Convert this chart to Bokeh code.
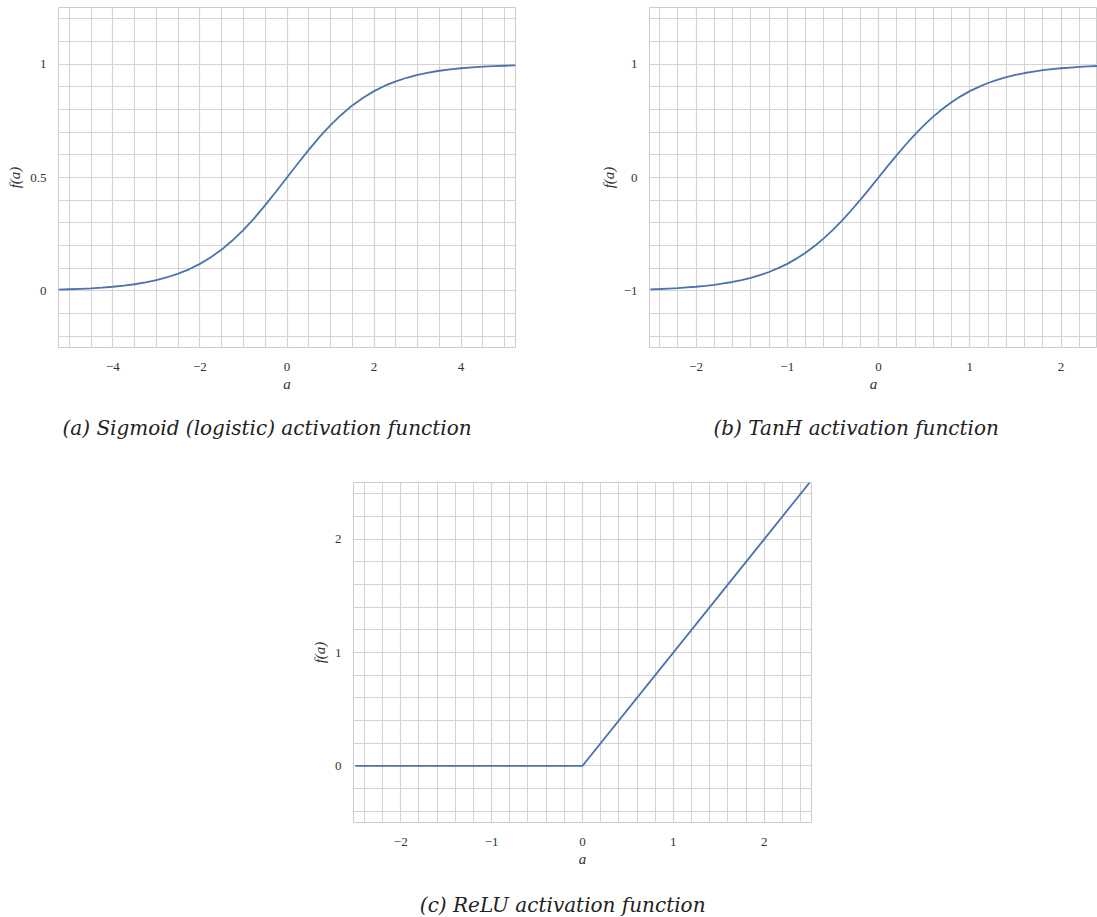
from bokeh.plotting import figure
from bokeh.layouts import column, row
from bokeh.models import FixedTicker, Title, CustomJSTickFormatter, Range1d, Label
from bokeh.embed import file_html
from bokeh.resources import INLINE
import numpy as np

# ---- data ----
sig_x = [-5.25, -5.0, -4.75, -4.5, -4.25, -4.0, -3.75, -3.5, -3.25, -3.0, -2.75, -2.5,
         -2.25, -2.0, -1.75, -1.5, -1.25, -1.0, -0.75, -0.5, -0.25, 0.0, 0.25, 0.5,
         0.75, 1.0, 1.25, 1.5, 1.75, 2.0, 2.25, 2.5, 2.75, 3.0, 3.25, 3.5, 3.75, 4.0,
         4.25, 4.5, 4.75, 5.0, 5.25]
sig_y = [0.005, 0.007, 0.009, 0.011, 0.014, 0.018, 0.023, 0.029, 0.037, 0.047, 0.060, 0.076,
         0.095, 0.119, 0.148, 0.182, 0.223, 0.269, 0.321, 0.378, 0.438, 0.500, 0.562, 0.622,
         0.679, 0.731, 0.777, 0.818, 0.852, 0.881, 0.905, 0.924, 0.940, 0.953, 0.963, 0.971,
         0.977, 0.982, 0.986, 0.989, 0.991, 0.993, 0.995]

tanh_x = [-2.5, -2.4, -2.3, -2.2, -2.1, -2.0, -1.9, -1.8, -1.7, -1.6, -1.5, -1.4, -1.3,
          -1.2, -1.1, -1.0, -0.9, -0.8, -0.7, -0.6, -0.5, -0.4, -0.3, -0.2, -0.1, 0.0,
          0.1, 0.2, 0.3, 0.4, 0.5, 0.6, 0.7, 0.8, 0.9, 1.0, 1.1, 1.2, 1.3, 1.4, 1.5,
          1.6, 1.7, 1.8, 1.9, 2.0, 2.1, 2.2, 2.3, 2.4, 2.5]
tanh_y = [-0.987, -0.984, -0.980, -0.976, -0.970, -0.964, -0.956, -0.947, -0.935, -0.922,
          -0.905, -0.885, -0.862, -0.834, -0.800, -0.762, -0.716, -0.664, -0.604, -0.537,
          -0.462, -0.380, -0.291, -0.197, -0.100, 0.000, 0.100, 0.197, 0.291, 0.380,
          0.462, 0.537, 0.604, 0.664, 0.716, 0.762, 0.800, 0.834, 0.862, 0.885, 0.905,
          0.922, 0.935, 0.947, 0.956, 0.964, 0.970, 0.976, 0.980, 0.984, 0.987]

relu_x = [-2.5, 0.0, 2.5]
relu_y = [0.0, 0.0, 2.5]

sig_xticks = [-4, -2, 0, 2, 4]
sig_yticks = [0, 0.5, 1]
tanh_xticks = [-2, -1, 0, 1, 2]
tanh_yticks = [-1, 0, 1]
relu_xticks = [-2, -1, 0, 1, 2]
relu_yticks = [0, 1, 2]

captions = ["(a) Sigmoid (logistic) activation function",
            "(b) TanH activation function",
            "(c) ReLU activation function"]

SERIF = "Liberation Serif"
CAP_FONT = "DejaVu Serif"
LINE = "#4c72b0"
GRID = "#d4d4d4"

fmt_code = "return tick < 0 ? '\\u2212' + String(Math.abs(tick)) : String(tick);"


def make_fig(width, height, mbl, mbr, mbt, mbb, xr, yr, xt, xmin, yt, ymin):
    p = figure(width=width, height=height, x_range=Range1d(*xr), y_range=Range1d(*yr),
               output_backend="svg", toolbar_location=None,
               min_border_left=mbl, min_border_right=mbr, min_border_top=mbt,
               min_border_bottom=mbb, background_fill_color="white",
               border_fill_color="white")
    p.outline_line_color = "#cccccc"
    p.outline_line_width = 1
    xtick = FixedTicker(ticks=xt, minor_ticks=xmin)
    ytick = FixedTicker(ticks=yt, minor_ticks=ymin)
    p.xaxis.ticker = xtick
    p.yaxis.ticker = ytick
    for ax in (p.xaxis[0], p.yaxis[0]):
        ax.formatter = CustomJSTickFormatter(code=fmt_code)
        ax.axis_line_color = None
        ax.major_tick_line_color = None
        ax.minor_tick_line_color = None
        ax.major_tick_out = 0
        ax.major_tick_in = 0
        ax.minor_tick_out = 0
        ax.minor_tick_in = 0
        ax.major_label_text_font = SERIF
        ax.major_label_text_font_size = "13px"
        ax.major_label_text_color = "#333333"
        ax.axis_label_text_font = SERIF
        ax.axis_label_text_font_style = "italic"
        ax.axis_label_text_font_size = "15px"
        ax.axis_label_text_color = "#333333"
    p.xaxis.axis_label = "a"
    p.yaxis.axis_label = "f(a)"
    p.xaxis.major_label_standoff = 15
    p.xaxis.axis_label_standoff = 2
    p.yaxis.major_label_standoff = 12
    p.yaxis.axis_label_standoff = 4
    p.xgrid.ticker = xtick
    p.ygrid.ticker = ytick
    for g in (p.xgrid[0], p.ygrid[0]):
        g.grid_line_color = GRID
        g.grid_line_width = 1.2
        g.minor_grid_line_color = GRID
        g.minor_grid_line_width = 1.0
    return p


def add_title(p, caption, cap_offset):
    t = Title(text=caption, align="left", text_font=CAP_FONT, text_font_style="italic",
              text_font_size="20px", text_color="#222222", standoff=38, offset=cap_offset)
    p.add_layout(t, "below")


p1 = make_fig(590, 460, 58, 75, 7, 113, (-5.25, 5.25), (-0.25, 1.25),
              sig_xticks, list(np.arange(-5.0, 5.01, 0.5)),
              sig_yticks, list(np.round(np.arange(-0.2, 1.21, 0.1), 2)))
add_title(p1, captions[0], 4)
p1.line(sig_x, sig_y, line_color=LINE, line_width=1.8)

p2 = make_fig(507, 460, 59, 0, 7, 113, (-2.51, 2.4), (-1.5, 1.5),
              tanh_xticks, list(np.round(np.arange(-2.4, 2.41, 0.2), 2)),
              tanh_yticks, list(np.round(np.arange(-1.4, 1.41, 0.2), 2)))
add_title(p2, captions[1], 64)
p2.line(tanh_x, tanh_y, line_color=LINE, line_width=1.8)

p3 = make_fig(880, 414, 353, 69, 22, 52, (-2.52, 2.52), (-0.5, 2.5),
              relu_xticks, list(np.round(np.arange(-2.4, 2.41, 0.2), 2)),
              relu_yticks, list(np.round(np.arange(-0.4, 2.41, 0.2), 2)))
p3.line(relu_x, relu_y, line_color=LINE, line_width=1.8)

# caption strip for (c): a blank canvas (its frame borders follow p3's in the column)
CAP_W, CAP_H = 1097, 43
p4 = figure(width=CAP_W, height=CAP_H, x_range=Range1d(0, CAP_W), y_range=Range1d(0, CAP_H),
            output_backend="svg", toolbar_location=None, x_axis_location=None,
            y_axis_location=None, min_border=0, min_border_left=0, min_border_right=0,
            min_border_top=0, min_border_bottom=0)
p4.outline_line_color = None
p4.xgrid.visible = False
p4.ygrid.visible = False
cap3 = Label(x=340, y=13, text=captions[2], text_align="center", text_baseline="middle",
             text_font=CAP_FONT, text_font_style="italic", text_font_size="20px",
             text_color="#222222")
p4.add_layout(cap3)

layout = column(row(p1, p2), p3, p4)
open("out.html", "w").write(file_html(layout, INLINE))
